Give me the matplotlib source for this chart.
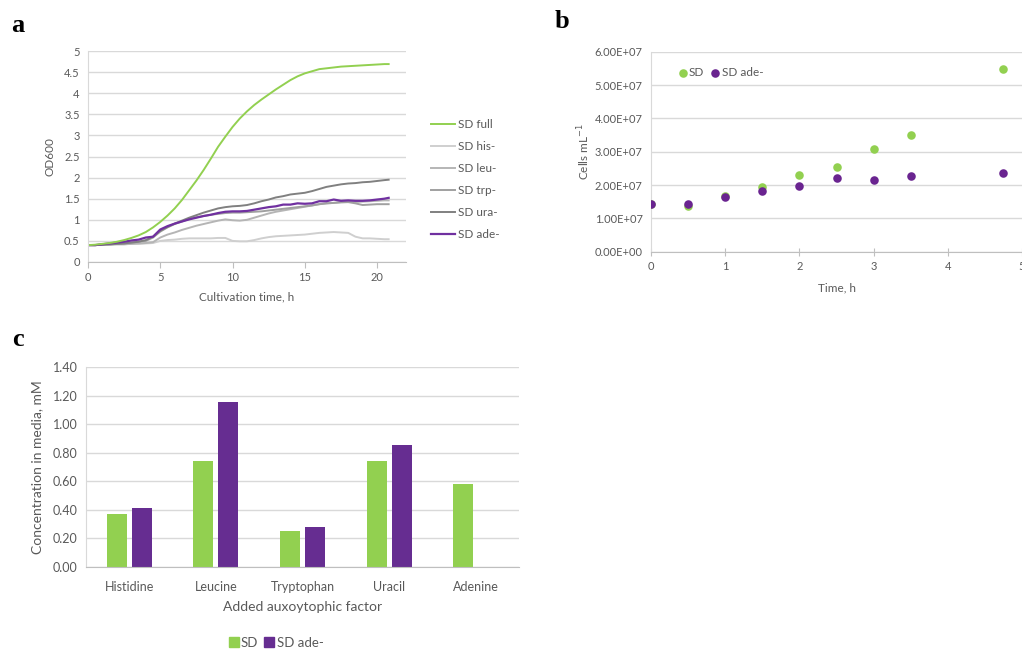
import matplotlib
matplotlib.use("Agg")
import matplotlib.pyplot as plt
from matplotlib.ticker import FuncFormatter
from matplotlib.lines import Line2D

plt.rcParams['font.family'] = ['Lato', 'DejaVu Sans']

# panel a: OD600 growth curves
time_a = [0, 0.5, 1, 1.5, 2, 2.5, 3, 3.5, 4, 4.5,
          5, 5.5, 6, 6.5, 7, 7.5, 8, 8.5, 9, 9.5,
          10, 10.5, 11, 11.5, 12, 12.5, 13, 13.5, 14, 14.5,
          15, 15.5, 16, 16.5, 17, 17.5, 18, 18.5, 19, 19.5,
          20, 20.5, 20.8]
sd_full = [0.40, 0.41, 0.43, 0.45, 0.48, 0.52, 0.57, 0.63, 0.71, 0.82,
           0.95, 1.10, 1.27, 1.47, 1.70, 1.93, 2.18, 2.45, 2.73, 2.97,
           3.20, 3.40, 3.57, 3.72, 3.85, 3.97, 4.09, 4.20, 4.31, 4.40,
           4.47, 4.52, 4.57, 4.59, 4.61, 4.63, 4.64, 4.65, 4.66, 4.67,
           4.68, 4.69, 4.69]
sd_his = [0.40, 0.40, 0.41, 0.41, 0.42, 0.42, 0.43, 0.43, 0.44, 0.45,
          0.50, 0.52, 0.53, 0.55, 0.56, 0.56, 0.56, 0.56, 0.57, 0.57,
          0.50, 0.49, 0.49, 0.52, 0.56, 0.59, 0.61, 0.62, 0.63, 0.64,
          0.65, 0.67, 0.69, 0.70, 0.71, 0.70, 0.69, 0.60, 0.56, 0.56,
          0.55, 0.54, 0.54]
sd_leu = [0.40, 0.40, 0.41, 0.41, 0.42, 0.42, 0.43, 0.44, 0.45, 0.47,
          0.58, 0.65, 0.70, 0.76, 0.81, 0.86, 0.90, 0.94, 0.98, 1.01,
          0.99, 0.98, 1.00, 1.05, 1.10, 1.15, 1.19, 1.22, 1.25, 1.28,
          1.31, 1.34, 1.37, 1.39, 1.40, 1.41, 1.42, 1.42, 1.43, 1.44,
          1.45, 1.46, 1.46]
sd_trp = [0.40, 0.40, 0.41, 0.42, 0.43, 0.44, 0.46, 0.48, 0.50, 0.58,
          0.72, 0.82, 0.90, 0.96, 1.02, 1.06, 1.09, 1.12, 1.14, 1.16,
          1.17, 1.17, 1.18, 1.19, 1.20, 1.22, 1.24, 1.26, 1.28, 1.30,
          1.32, 1.34, 1.37, 1.39, 1.40, 1.42, 1.42, 1.39, 1.35, 1.36,
          1.37, 1.37, 1.37]
sd_ura = [0.40, 0.40, 0.41, 0.42, 0.43, 0.44, 0.46, 0.48, 0.52, 0.60,
          0.74, 0.83, 0.91, 0.98, 1.05, 1.11, 1.17, 1.22, 1.27, 1.30,
          1.32, 1.33, 1.35, 1.39, 1.44, 1.48, 1.53, 1.56, 1.60, 1.62,
          1.64, 1.68, 1.73, 1.78, 1.81, 1.84, 1.86, 1.87, 1.89, 1.90,
          1.92, 1.94, 1.95]
sd_ade = [0.40, 0.40, 0.42, 0.44, 0.46, 0.48, 0.51, 0.53, 0.58, 0.60,
          0.77, 0.85, 0.91, 0.96, 1.01, 1.05, 1.09, 1.12, 1.16, 1.19,
          1.20, 1.20, 1.21, 1.24, 1.27, 1.30, 1.32, 1.36, 1.36, 1.39,
          1.38, 1.39, 1.44, 1.44, 1.48, 1.45, 1.46, 1.45, 1.45, 1.46,
          1.48, 1.50, 1.52]

# panel b: cell counts
time_b = [0, 0.5, 1, 1.5, 2, 2.5, 3, 3.5, 4.75]
cells_sd = [1.44e7, 1.37e7, 1.67e7, 1.95e7, 2.30e7, 2.53e7, 3.08e7, 3.49e7, 5.48e7]
cells_ade = [1.44e7, 1.42e7, 1.63e7, 1.81e7, 1.98e7, 2.22e7, 2.16e7, 2.26e7, 2.37e7]

# panel c: concentrations
factors = ['Histidine', 'Leucine', 'Tryptophan', 'Uracil', 'Adenine']
conc_sd = [0.37, 0.74, 0.25, 0.74, 0.58]
conc_ade = [0.41, 1.155, 0.28, 0.855, 0.0]

GREEN = '#92d050'
PURPLE = '#7030a0'
BAR_PURPLE = '#662d91'
TXT = '#595959'
GRID = '#d9d9d9'
AXIS = '#bfbfbf'

W, H = 1022, 651


def px_axes(fig, left, top, right, bottom):
    return fig.add_axes([left / W, 1 - bottom / H, (right - left) / W, (bottom - top) / H])


def style(ax, size):
    ax.grid(axis='y', color=GRID, lw=1)
    ax.set_axisbelow(True)
    for s in ['top', 'right']:
        ax.spines[s].set_visible(False)
    ax.spines['left'].set_color(GRID)
    ax.spines['bottom'].set_color(AXIS)
    ax.tick_params(axis='y', length=0, labelsize=size, labelcolor=TXT, pad=6)
    ax.tick_params(axis='x', labelsize=size, labelcolor=TXT, color=AXIS)


fig = plt.figure(figsize=(W / 100, H / 100), dpi=100)

# ---- a
ax = px_axes(fig, 88, 51, 406, 262)
style(ax, 8)
ax.plot(time_a, sd_his, color='#cfcfcf', lw=1.4, label='SD his-')
ax.plot(time_a, sd_leu, color='#b5b5b5', lw=1.4, label='SD leu-')
ax.plot(time_a, sd_trp, color='#a0a0a0', lw=1.4, label='SD trp-')
ax.plot(time_a, sd_ura, color='#808080', lw=1.4, label='SD ura-')
ax.plot(time_a, sd_ade, color=PURPLE, lw=1.6, label='SD ade-')
ax.plot(time_a, sd_full, color=GREEN, lw=1.4, label='SD full')
ax.set_xlim(0, 22)
ax.set_ylim(0, 5)
ax.set_xticks([0, 5, 10, 15, 20])
ax.set_yticks([0, 0.5, 1, 1.5, 2, 2.5, 3, 3.5, 4, 4.5, 5])
ax.yaxis.set_major_formatter(FuncFormatter(lambda v, p: '%g' % v))
ax.tick_params(axis='x', length=4, pad=3)
ax.set_xlabel('Cultivation time, h', fontsize=8.5, color=TXT, labelpad=6)
ax.set_ylabel('OD600', fontsize=8.5, color=TXT, labelpad=6)
h, l = ax.get_legend_handles_labels()
order = ['SD full', 'SD his-', 'SD leu-', 'SD trp-', 'SD ura-', 'SD ade-']
hs = [h[l.index(o)] for o in order]
fig.legend(hs, order, loc='upper left', bbox_to_anchor=(431 / W, 1 - 119 / H),
           frameon=False, fontsize=8.5, labelcolor=TXT, borderpad=0, borderaxespad=0,
           handlelength=2.0, handletextpad=0.3, labelspacing=0.93)

# ---- b
axb = px_axes(fig, 651, 51.7, 1022, 251.7)
style(axb, 8)
axb.scatter(time_b, cells_sd, s=38, color=GREEN, zorder=3, label='SD', linewidths=0)
axb.scatter(time_b, cells_ade, s=38, color='#6a2490', zorder=3, label='SD ade-', linewidths=0)
axb.set_xlim(0, 5)
axb.set_ylim(0, 6e7)
axb.set_yticks([0, 1e7, 2e7, 3e7, 4e7, 5e7, 6e7])
axb.yaxis.set_major_formatter(FuncFormatter(lambda v, p: '%.2E' % v))
axb.tick_params(axis='x', direction='inout', length=6, pad=4)
axb.set_xlabel('Time, h', fontsize=8.5, color=TXT, labelpad=7)
axb.set_ylabel('Cells mL$^{-1}$', fontsize=8.5, color=TXT, labelpad=2)
axb.legend(loc='upper left', bbox_to_anchor=(679 / W, 1 - 67 / H), bbox_transform=fig.transFigure,
           ncol=2, frameon=False, fontsize=8.5, labelcolor=TXT, borderpad=0, borderaxespad=0,
           handlelength=0.6, handletextpad=0.25, columnspacing=0.6, markerscale=1)

# ---- c
axc = px_axes(fig, 86, 367, 519, 567)
style(axc, 9)
x = list(range(len(factors)))
bw = 0.23
axc.bar([i - 0.145 for i in x], conc_sd, width=bw, color=GREEN, label='SD')
axc.bar([i + 0.145 for i in x], conc_ade, width=bw, color=BAR_PURPLE, label='SD ade-')
axc.set_xlim(-0.5, 4.5)
axc.set_ylim(0, 1.4)
axc.set_yticks([0, 0.2, 0.4, 0.6, 0.8, 1.0, 1.2, 1.4])
axc.yaxis.set_major_formatter(FuncFormatter(lambda v, p: '%.2f' % v))
axc.set_xticks(x)
axc.set_xticklabels(factors)
axc.tick_params(axis='x', length=0, pad=10)
axc.set_xlabel('Added auxoytophic factor', fontsize=10, color=TXT, labelpad=6)
axc.set_ylabel('Concentration in media, mM', fontsize=10, color=TXT, labelpad=7)
hc = [Line2D([], [], ls='', marker='s', ms=7, color=GREEN),
      Line2D([], [], ls='', marker='s', ms=7, color=BAR_PURPLE)]
fig.legend(hc, ['SD', 'SD ade-'], loc='center left', bbox_to_anchor=(229 / W, 1 - 643 / H),
           ncol=2, frameon=False, fontsize=9.5, labelcolor=TXT, borderpad=0, borderaxespad=0,
           handlelength=0.7, handletextpad=0.2, columnspacing=0.5)

# panel letters
for txt, px, py in [('a', 18, 26), ('b', 562, 22), ('c', 18, 340)]:
    fig.text(px / W, 1 - py / H, txt, fontsize=19, fontweight='bold',
             family='Liberation Serif', va='center', ha='center')

fig.savefig('out.png', dpi=100)
